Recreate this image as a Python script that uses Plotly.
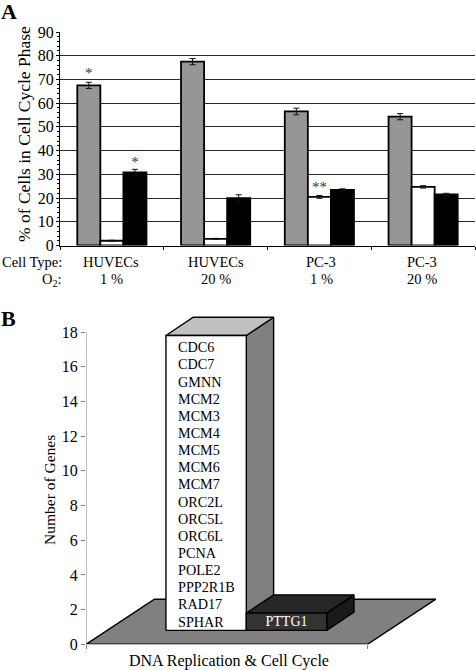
import plotly.graph_objects as go

W, H = 476, 670
SERIF = "Liberation Serif"

# Panel A data
group_pos = [0, 1, 2, 3]
cell_types = ["HUVECs", "HUVECs", "PC-3", "PC-3"]
o2_levels = ["1 %", "20 %", "1 %", "20 %"]
g1_values = [67.5, 77.5, 56.5, 54.3]
g1_err = [1.3, 1.3, 1.4, 1.3]
s_values = [2.0, 2.8, 20.5, 24.7]
s_err = [0.2, 0.2, 0.6, 0.5]
g2_values = [30.8, 20.0, 23.4, 21.5]
g2_err = [1.3, 1.4, 0.5, 0.5]

# Panel B data
genes_dna = ["CDC6", "CDC7", "GMNN", "MCM2", "MCM3", "MCM4", "MCM5", "MCM6", "MCM7",
             "ORC2L", "ORC5L", "ORC6L", "PCNA", "POLE2", "PPP2R1B", "RAD17", "SPHAR"]
genes_other = ["PTTG1"]
count_dna = len(genes_dna)
count_other = len(genes_other)


def px_x(p):
    return p / W


def px_y(p):
    return 1 - p / H


fig = go.Figure()

for vals, errs, col in [(g1_values, g1_err, "#969696"), (s_values, s_err, "#ffffff"), (g2_values, g2_err, "#000000")]:
    fig.add_trace(go.Bar(
        x=group_pos, y=vals, xaxis="x", yaxis="y",
        marker=dict(color=col, line=dict(color="#000000", width=1.8)),
        error_y=dict(type="data", array=errs, color="#111111", thickness=1, width=3),
        showlegend=False))

# significance marks
fig.add_trace(go.Scatter(
    x=[-0.222, 0.222, 2.0], y=[g1_values[0] + 1.3 + 3.2, g2_values[0] + 1.3 + 2.4, s_values[2] + 0.6 + 2.9],
    text=["*", "*", "**"], mode="text", xaxis="x", yaxis="y", showlegend=False,
    textfont=dict(family=SERIF, size=15, color="#333333")))

# Panel B: projected 3-D column chart in the axis units
BASE = 0.8            # front edge of the columns above the floor front
DX, DY = 0.097, 1.05  # column depth projection
FX, FY = 0.243, 2.6   # floor depth projection
L1, BW = 0.284, 0.2855
L2 = L1 + BW


def poly(xs, ys, fill, line="#000000"):
    fig.add_trace(go.Scatter(
        x=xs + xs[:1], y=ys + ys[:1], mode="lines", fill="toself", fillcolor=fill,
        line=dict(color=line, width=1.4), xaxis="x2", yaxis="y2",
        hoverinfo="skip", showlegend=False))


poly([0, 1, 1 + FX, FX], [0, 0, FY, FY], "#808080")
t1 = BASE + count_dna
t2 = BASE + count_other
# dna column
poly([L2, L2 + DX, L2 + DX, L2], [BASE, BASE + DY, t1 + DY, t1], "#808080")
poly([L1, L1 + DX, L2 + DX, L2], [t1, t1 + DY, t1 + DY, t1], "#c0c0c0")
poly([L1, L2, L2, L1], [BASE, BASE, t1, t1], "#ffffff")
# other column
R2 = L2 + BW
poly([R2, R2 + DX, R2 + DX, R2], [BASE, BASE + DY, t2 + DY, t2], "#1a1a1a")
poly([L2, L2 + DX, R2 + DX, R2], [t2, t2 + DY, t2 + DY, t2], "#262626")
poly([L2, R2, R2, L2], [BASE, BASE, t2, t2], "#333333")

# y axis line of panel B
fig.add_trace(go.Scatter(x=[0, 0], y=[0, 18], mode="lines", line=dict(color="#808080", width=1),
                         xaxis="x2", yaxis="y2", hoverinfo="skip", showlegend=False))

fig.add_trace(go.Scatter(
    x=[L1 + 0.043] * count_dna,
    y=[BASE + 0.43 + (count_dna - 1 - i) * 0.988 for i in range(count_dna)],
    text=genes_dna, mode="text", textposition="middle right", xaxis="x2", yaxis="y2",
    showlegend=False, textfont=dict(family=SERIF, size=14.2, color="#000000")))
fig.add_trace(go.Scatter(
    x=[L2 + BW / 2], y=[BASE + 0.43], text=genes_other, mode="text", textposition="middle center",
    xaxis="x2", yaxis="y2", showlegend=False, textfont=dict(family=SERIF, size=14, color="#ffffff")))

annotations = []


def label(text, x, y, size=14.5, anchor="center", angle=0, bold=False):
    annotations.append(dict(
        text=f"<b>{text}</b>" if bold else text, x=px_x(x), y=px_y(y), xref="paper", yref="paper",
        showarrow=False, xanchor=anchor, yanchor="middle", textangle=angle,
        font=dict(family=SERIF, size=size, color="#000000"), borderpad=0, borderwidth=0))


label("A", 1, 11, size=22, anchor="left", bold=True)
label("B", 1, 318, size=22, anchor="left", bold=True)
label("% of Cells in Cell Cycle Phase", 24, 134, size=17.5, angle=-90)
label("Cell Type:", 62, 262, anchor="right")
label("O<sub>2</sub>:", 62, 280, anchor="right")
for cx, ct in zip([110.5, 216, 321, 422], cell_types):
    label(ct, cx, 262)
for cx, o2 in zip([111, 216, 321.5, 422], o2_levels):
    label(o2, cx, 279)
label("Number of Genes", 49, 490, size=15.5, angle=-90)
label("DNA Replication &amp; Cell Cycle", 229, 661, size=16)

a_left, a_right, a_top, a_bot = 60, 475, 32, 245.5
b_left, b_top, b_bot = 86, 310, 644.3
b_unit_x = 281.5
b_unit_y = (644.3 - 332) / 18

fig.update_layout(
    width=W, height=H, margin=dict(l=0, r=0, t=0, b=0, autoexpand=False),
    paper_bgcolor="#ffffff", plot_bgcolor="#ffffff",
    barmode="group", bargap=1 / 3, bargroupgap=0,
    annotations=annotations,
    font=dict(family=SERIF, color="#000000"),
    xaxis=dict(domain=[px_x(a_left), px_x(a_right)], range=[-0.5, 3.5], anchor="y", automargin=False,
               tickvals=[-0.5, 0.5, 1.5, 2.5, 3.5], showticklabels=False, ticks="outside",
               ticklen=3, tickcolor="#000000", showgrid=False, zeroline=False,
               showline=True, linecolor="#000000", linewidth=1),
    yaxis=dict(domain=[px_y(a_bot), px_y(a_top)], range=[0, 90], anchor="x", dtick=10, automargin=False,
               ticks="outside", ticklen=3, tickcolor="#000000", ticklabelstandoff=-1,
               tickfont=dict(family=SERIF, size=16), showgrid=True, gridcolor="#2a2a2a", gridwidth=1,
               zeroline=False, showline=True, linecolor="#000000", linewidth=1,
               minor=dict(dtick=2, ticks="outside", ticklen=2, tickcolor="#000000", showgrid=False)),
    xaxis2=dict(domain=[px_x(b_left), 1], range=[0, (W - b_left) / b_unit_x], anchor="y2", automargin=False,
                tickvals=[0, 1], showticklabels=False, ticks="outside", ticklen=4,
                tickcolor="#808080", showgrid=False, zeroline=False, showline=False),
    yaxis2=dict(domain=[px_y(b_bot), px_y(b_top)], range=[0, (b_bot - b_top) / b_unit_y], anchor="x2", automargin=False,
                tickvals=list(range(0, 20, 2)), ticks="outside", ticklen=4, tickcolor="#808080",
                tickfont=dict(family=SERIF, size=16), showgrid=False, zeroline=False, showline=False),
)

fig.write_html("out.html", config=dict(displayModeBar=False),
               post_script="document.body.style.margin='0';document.documentElement.style.overflow='hidden';")
